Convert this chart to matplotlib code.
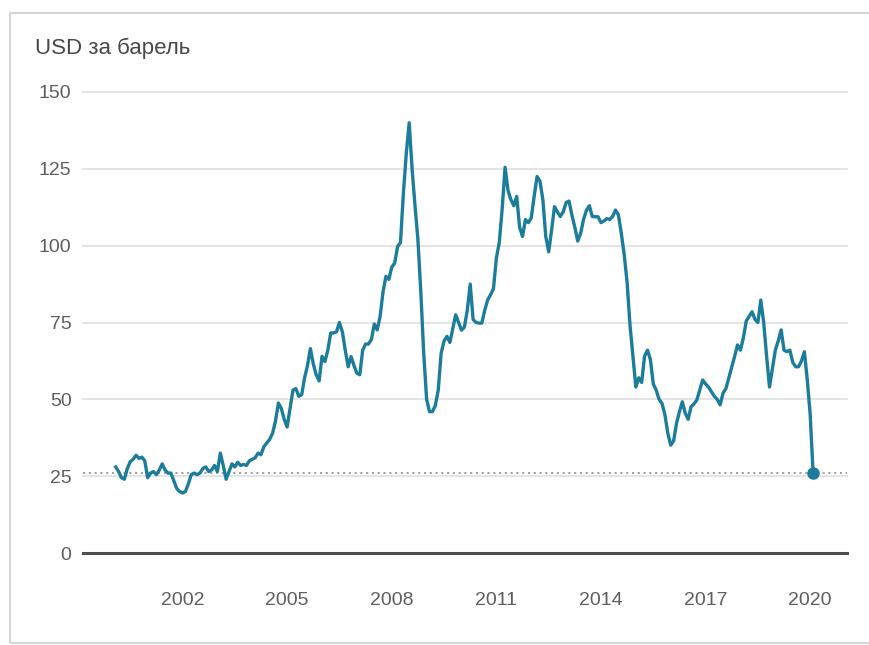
import matplotlib
matplotlib.use('Agg')
import matplotlib.pyplot as plt
from matplotlib.patches import Rectangle
import numpy as np

plt.rcParams['font.family'] = ['Liberation Sans', 'DejaVu Sans']

title = 'USD за барель'
start_year, start_month = 2000, 2
prices_2000 = [28, 26.5, 24.5, 24, 27.5, 29.7, 30.5, 31.8, 30.8, 31.2, 30]
prices_2001 = [24.5, 26, 26.5, 25.5, 27, 29, 27, 26, 26, 23.5, 21, 20]
prices_2002 = [19.5, 20, 22.5, 25.5, 26, 25.5, 26, 27.5, 28, 26.5, 27, 28.5]
prices_2003 = [26.5, 32.5, 28.5, 24, 26.5, 29, 28, 29.5, 28.5, 28.8, 28.5, 30]
prices_2004 = [30.5, 31, 32.5, 32, 34.6, 35.8, 37, 39, 43, 48.8, 47, 43.5]
prices_2005 = [41, 47, 53, 53.5, 51, 51.5, 57, 61, 66.5, 61.5, 58, 56]
prices_2006 = [64, 62.3, 66, 71.6, 71.6, 72, 75, 72, 66, 60.6, 63.9, 61]
prices_2007 = [58.5, 58, 66, 68, 68, 69.5, 74.5, 72.6, 77, 85, 90, 89]
prices_2008 = [93, 94.3, 99.7, 101, 117, 130, 140, 125, 113, 102, 85, 65]
prices_2009 = [50, 46, 46, 48, 53, 65, 69, 70.5, 68.5, 73, 77.5, 75]
prices_2010 = [72.5, 73.5, 79, 87.5, 76, 75, 74.8, 74.8, 79, 82.3, 84, 86]
prices_2011 = [96, 101, 112, 125.5, 118, 115, 113, 116, 106, 103, 108.5, 107.5]
prices_2012 = [109, 116, 122.5, 121, 115, 103, 98, 105, 112.7, 111, 109.5, 111]
prices_2013 = [114, 114.5, 110, 106, 101.5, 104, 108.5, 111.5, 113, 109.5, 109.4, 109.4]
prices_2014 = [107.5, 108, 108.8, 108.5, 109.5, 111.6, 110, 104, 97, 88, 74, 64]
prices_2015 = [54, 57, 55.5, 64, 66, 63, 55, 53, 50, 48.7, 45, 39]
prices_2016 = [35.1, 36.5, 42.2, 46, 49.2, 45.5, 43.5, 47.6, 48.5, 49.8, 53, 56.3]
prices_2017 = [55, 54, 52.5, 51, 50, 48.2, 52, 53.5, 57, 60.6, 64, 67.7]
prices_2018 = [66, 70, 75.5, 77, 78.5, 76, 75, 82.3, 75, 64, 54, 60]
prices_2019 = [66, 69, 72.6, 66, 65.5, 66, 62, 60.6, 60.6, 62.5, 65.5, 56.3]
prices_2020 = [45, 26]

x_ticks = [2002, 2005, 2008, 2011, 2014, 2017, 2020]
y_ticks = [0, 25, 50, 75, 100, 125, 150]
reference_level = 26  # latest price, shown as dotted line

prices = (prices_2000 + prices_2001 + prices_2002 + prices_2003 + prices_2004 +
          prices_2005 + prices_2006 + prices_2007 + prices_2008 + prices_2009 +
          prices_2010 + prices_2011 + prices_2012 + prices_2013 + prices_2014 +
          prices_2015 + prices_2016 + prices_2017 + prices_2018 + prices_2019 +
          prices_2020)
months = start_month - 1 + np.arange(len(prices))
t = start_year + months / 12.0

W, H = 869, 645
fig = plt.figure(figsize=(W / 100, H / 100), dpi=100)

# outer frame (open to the right edge)
fig.patches.append(Rectangle((10 / W, 2 / H), 1.2, (643 - 13) / H,
                             transform=fig.transFigure, fill=False,
                             edgecolor='#d6d6d6', lw=1.5))

ax = fig.add_axes([82.7 / W, (H - 553) / H, (846.7 - 82.7) / W, (553 - 92) / H])
ax.set_xlim(1999.137, 2021.047)
ax.set_ylim(0, 150)
for s in ax.spines.values():
    s.set_visible(False)

for y in y_ticks[1:]:
    ax.axhline(y, color='#e4e4e4', lw=1.4, zorder=0, clip_on=False)
ax.axhline(0, color='#4f4f4f', lw=2.2, zorder=2, clip_on=False)
ax.axhline(reference_level, color='#9a9a9a', lw=1.3, ls=(0, (1.2, 2.0)), zorder=1)

color = '#1b7c9c'
ax.plot(t, prices, color=color, lw=2.4, zorder=3, solid_joinstyle='round', clip_on=False)
ax.plot(t[-1], prices[-1], 'o', ms=8, color=color, zorder=4, clip_on=False)

ax.set_xticks(x_ticks)
ax.set_xticklabels([str(v) for v in x_ticks])
ax.set_yticks(y_ticks)
ax.set_yticklabels([str(v) for v in y_ticks])
ax.tick_params(axis='both', length=0, labelsize=14, labelcolor='#5e5e5e')
ax.tick_params(axis='y', pad=8)
ax.tick_params(axis='x', pad=28)

fig.text(35 / W, 1 - 48 / H, title, fontsize=16, va='center', ha='left', color='#484848')

fig.savefig('out.png', dpi=100)
